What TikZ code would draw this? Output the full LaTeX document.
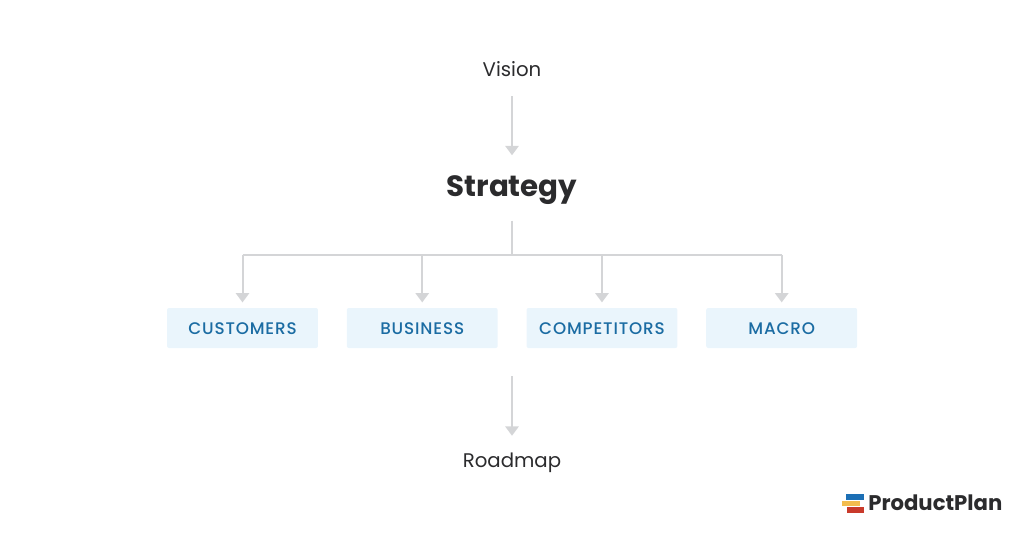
\documentclass[tikz,border=0pt]{standalone}
\usepackage{fontspec}
\setmainfont{Poppins}
\newfontfamily\spacedfont[LetterSpace=5.0]{Poppins Medium}
\usetikzlibrary{positioning,arrows.meta}
\definecolor{linegray}{HTML}{D4D5D7}
\definecolor{boxblue}{HTML}{EAF5FC}
\definecolor{labelblue}{HTML}{1B6CA3}
\definecolor{inkdark}{HTML}{2B2B2D}
\definecolor{logoyellow}{HTML}{F3BC4E}
\definecolor{logored}{HTML}{C93A2B}
\definecolor{logoblue}{HTML}{1C6FB5}
\tikzset{
  flow/.style={draw=linegray, line width=1.5pt, -{Triangle[width=10pt,length=7pt]}},
  stem/.style={draw=linegray, line width=1.5pt},
  plain/.style={text=inkdark, inner sep=0pt, font=\fontsize{14.8}{17}\selectfont},
  factor/.style={fill=boxblue, rounded corners=1.5pt, minimum width=113.2pt, minimum height=30pt,
                 inner sep=0pt, text height=10pt, text depth=0pt, text=labelblue, font=\fontsize{12.6}{15}\spacedfont}
}

\begin{document}
\begin{tikzpicture}[x=0.75pt,y=-0.75pt]
  \useasboundingbox (0,0) rectangle (1024,536);
  \node[plain, minimum height=40.5pt] (vision) at (512,69) {Vision};
  \node[plain, font=\fontsize{22}{26}\selectfont\bfseries, minimum height=51.75pt] (strategy) at (512,190) {Strategy};
  \node[factor] (customers) at (242.5,328) {CUSTOMERS};
  \node[factor] (business) [right=21.2pt of customers] {BUSINESS};
  \node[factor] (competitors) [right=21.2pt of business] {COMPETITORS};
  \node[factor] (macro) [right=21.2pt of competitors] {MACRO};
  \node[plain, minimum height=40.5pt] (roadmap) at (512,463) {Roadmap};
  \coordinate (fork) at (512,255);
  \path[flow] (vision) -- (strategy);
  \path[stem, shorten <=-3.2pt] (strategy) -- (fork);
  \path[stem] (customers |- fork) -- (macro |- fork);
  \foreach \target in {customers,business,competitors,macro}
    \path[flow, shorten >=4pt] (\target |- fork) -- (\target);
  \path[flow, shorten <=21pt] (business.south -| roadmap) -- (roadmap);
  % logo
  \fill[logoblue] (846,494) rectangle (864,499.5);
  \fill[logoyellow] (842,500.5) rectangle (860,506);
  \fill[logored] (847,507) rectangle (864,512.5);
  \node[text=inkdark, inner sep=0pt, anchor=west, font=\fontsize{15.9}{19}\selectfont\bfseries] (logotext) at (868,503) {ProductPlan};
\end{tikzpicture}
\end{document}
